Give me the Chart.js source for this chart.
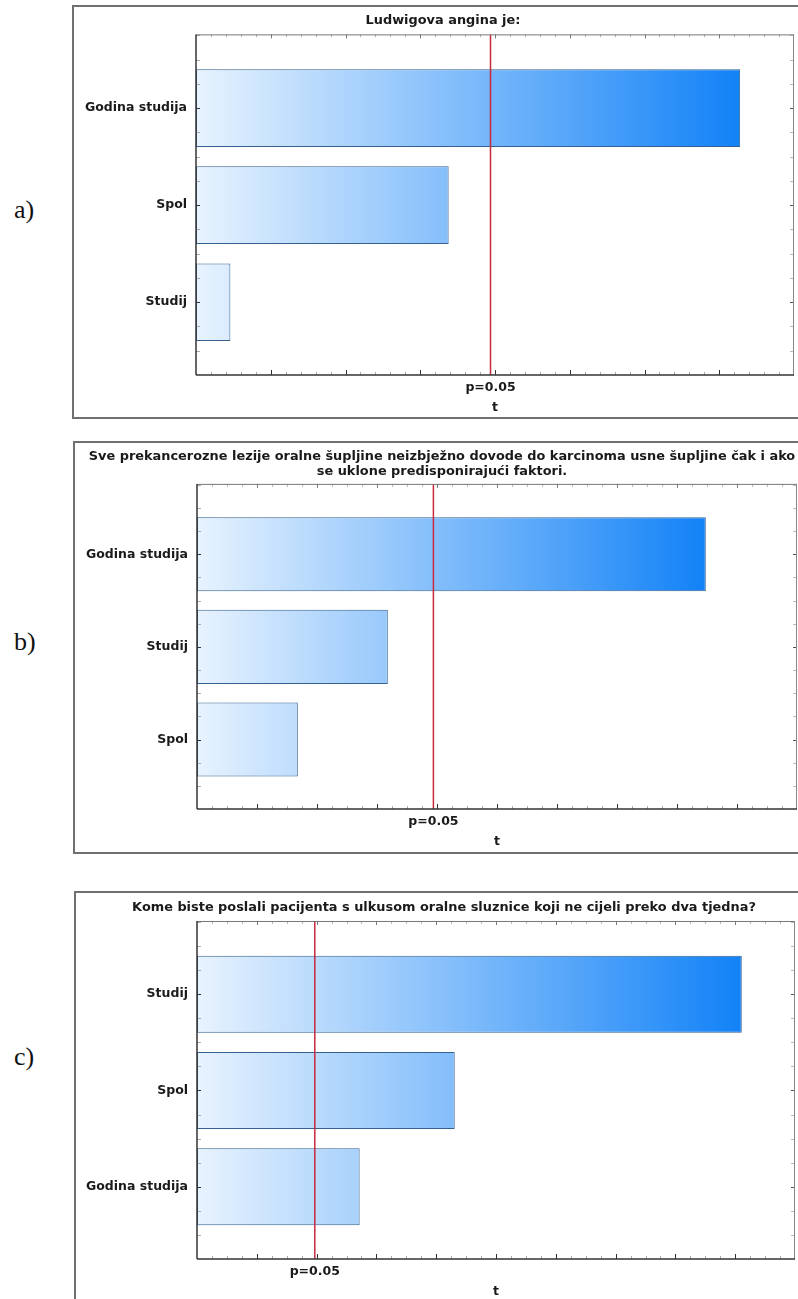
<!DOCTYPE html>
<html>
<head>
<meta charset="utf-8">
<script src="https://cdn.jsdelivr.net/npm/chart.js@4/dist/chart.umd.min.js"></script>
<style>
  body { margin: 0; width: 798px; height: 1299px; overflow: hidden; background: #fff; position: relative; }
  .frame { position: absolute; border: 2px solid #707070; box-sizing: border-box; }
  .tag { position: absolute; left: 14px; font-family: "Liberation Serif", "Times New Roman", serif; font-size: 26px; line-height: 26px; color: #111; }
  canvas { position: absolute; left: 0; }
</style>
</head>
<body>
<div class="frame" style="left:72px; top:5px; width:780px; height:414px"></div>
<div class="frame" style="left:73px; top:441px; width:780px; height:413px"></div>
<div class="frame" style="left:74px; top:891px; width:780px; height:500px"></div>

<div class="tag" style="top:197px">a)</div>
<div class="tag" style="top:629px">b)</div>
<div class="tag" style="top:1044px">c)</div>

<canvas id="chartA" width="798" height="420" style="top:0px"></canvas>
<canvas id="chartB" width="798" height="414" style="top:440px"></canvas>
<canvas id="chartC" width="798" height="419" style="top:880px"></canvas>

<script>
// --- data (t values of the Pareto charts) ---
const titleA = "Ludwigova angina je:";
const categoriesA = ["Godina studija", "Spol", "Studij"];
const valuesA = [3.64, 1.69, 0.23];

const titleB = [
  "Sve prekancerozne lezije oralne šupljine neizbježno dovode do karcinoma usne šupljine čak i ako",
  "se uklone predisponirajući faktori."
];
const categoriesB = ["Godina studija", "Studij", "Spol"];
const valuesB = [4.24, 1.59, 0.84];

const titleC = "Kome biste poslali pacijenta s ulkusom oralne sluznice koji ne cijeli preko dva tjedna?";
const categoriesC = ["Studij", "Spol", "Godina studija"];
const valuesC = [9.11, 4.31, 2.72];

const criticalT = 1.97;
const criticalLabel = "p=0.05";
const axisTitle = "t";

const FONT = "'DejaVu Sans', 'Liberation Sans', Arial, sans-serif";
const TEXT = "#1a1a1a";

function barGradient(chart, maxValue) {
  const { ctx, chartArea, scales } = chart;
  if (!chartArea) return "#8cc3fb";
  const g = ctx.createLinearGradient(chartArea.left, 0, scales.x.getPixelForValue(maxValue), 0);
  g.addColorStop(0, "#e8f3fe");
  g.addColorStop(1, "#1282f7");
  return g;
}

// frame of the plot, small inner ticks and the p=0.05 line
const paretoDecor = {
  id: "paretoDecor",
  afterLayout(chart, args, opts) {
    // statistica centres the title on the whole graph window, not on the plot
    const t = chart.titleBlock;
    if (t && opts.titleCenter) {
      t.left = opts.titleCenter - 400;
      t.right = opts.titleCenter + 400;
    }
  },
  afterDatasetsDraw(chart, args, opts) {
    const { ctx, chartArea: a, scales: { x, y } } = chart;
    const line = (x1, y1, x2, y2, color, w) => {
      ctx.strokeStyle = color;
      ctx.lineWidth = w || 1;
      ctx.beginPath();
      ctx.moveTo(x1, y1);
      ctx.lineTo(x2, y2);
      ctx.stroke();
    };
    ctx.save();

    const n = Math.round(x.max / opts.minorStep);
    const perMajor = Math.round(opts.majorStep / opts.minorStep);
    for (let k = 1; k < n; k++) {
      const px = Math.round(x.getPixelForValue(k * opts.minorStep)) + 0.5;
      const major = k % perMajor === 0;
      line(px, a.bottom, px, a.bottom - (major ? 5 : 3), major ? "#333" : "#aaa");
      line(px, a.top, px, a.top + (major ? 4 : 3), major ? "#777" : "#bbb");
    }
    for (let k = -3; k * 0.25 < y.max; k++) {
      const v = k * 0.25;
      if (v <= y.min) continue;
      const py = Math.round(y.getPixelForValue(v)) + 0.5;
      const major = k % 4 === 0;
      line(a.left, py, a.left + 4, py, major ? "#333" : "#aaa");
      line(a.right, py, a.right - 4, py, major ? "#555" : "#bbb");
    }

    const rx = x.getPixelForValue(criticalT);
    line(rx, a.top, rx, a.bottom, "#c8283c", 1.5);

    line(a.left, a.top + 0.5, a.right, a.top + 0.5, "#777", 1);
    line(a.right - 0.5, a.top, a.right - 0.5, a.bottom, "#888", 1);
    line(a.left, a.top, a.left, a.bottom, "#333", 1.5);
    line(a.left, a.bottom, a.right, a.bottom, "#333", 1.5);
    ctx.restore();
  }
};

function paretoChart(id, p) {
  const maxValue = Math.max(...p.values);
  return new Chart(document.getElementById(id), {
    type: "bar",
    data: {
      datasets: [{
        data: p.values.map((v, i) => ({ x: v, y: i })),
        backgroundColor: (c) => barGradient(c.chart, maxValue),
        borderColor: "#34618f",
        borderWidth: 1,
        borderSkipped: false,
        categoryPercentage: 0.8,
        barPercentage: 1
      }]
    },
    options: {
      indexAxis: "y",
      responsive: false,
      animation: false,
      devicePixelRatio: 1,
      layout: { padding: { left: 0, right: p.padRight, top: 0, bottom: p.padBottom } },
      plugins: {
        legend: { display: false },
        tooltip: { enabled: false },
        title: {
          display: true,
          text: p.title,
          color: TEXT,
          font: { family: FONT, size: 12.9, weight: "bold", lineHeight: 1.1 },
          padding: { top: p.titleTop, bottom: p.titleBottom }
        },
        paretoDecor: { majorStep: p.majorStep, minorStep: p.minorStep, titleCenter: p.titleCenter }
      },
      scales: {
        x: {
          type: "linear",
          min: 0,
          max: p.tMax,
          grid: { display: false, drawTicks: false },
          border: { display: false },
          afterBuildTicks: (s) => { s.ticks = [{ value: criticalT }]; },
          afterFit: (s) => { s.height = 40; },
          ticks: {
            callback: () => criticalLabel,
            padding: 5.5,
            maxRotation: 0,
            color: TEXT,
            font: { family: FONT, size: 12.5, weight: "bold" }
          },
          title: {
            display: true,
            text: axisTitle,
            padding: 0,
            color: TEXT,
            font: { family: FONT, size: 12.5, weight: "bold" }
          }
        },
        y: {
          type: "linear",
          reverse: true,
          offset: false,
          min: -0.76,
          max: 2.75,
          grid: { display: false, drawTicks: false },
          border: { display: false },
          afterBuildTicks: (s) => { s.ticks = p.categories.map((_, i) => ({ value: i })); },
          afterFit: (s) => { s.width = p.plotLeft; },
          ticks: {
            callback: (v) => p.categories[v],
            padding: 9,
            color: TEXT,
            font: { family: FONT, size: 12.5, weight: "bold" }
          }
        }
      }
    },
    plugins: [paretoDecor]
  });
}

paretoChart("chartA", {
  title: titleA, categories: categoriesA, values: valuesA,
  tMax: 4, majorStep: 0.5, minorStep: 0.1,
  plotLeft: 196, padRight: 4, padBottom: 5,
  titleTop: 13.9, titleBottom: 6.3, titleCenter: 443
});

paretoChart("chartB", {
  title: titleB, categories: categoriesB, values: valuesB,
  tMax: 5, majorStep: 0.5, minorStep: 0.125,
  plotLeft: 197, padRight: 1, padBottom: 5,
  titleTop: 9.9, titleBottom: 5.6, titleCenter: 442
});

paretoChart("chartC", {
  title: titleC, categories: categoriesC, values: valuesC,
  tMax: 10, majorStep: 1, minorStep: 0.25,
  plotLeft: 197, padRight: 3, padBottom: 0,
  titleTop: 20.9, titleBottom: 5.9, titleCenter: 444
});
</script>
</body>
</html>
